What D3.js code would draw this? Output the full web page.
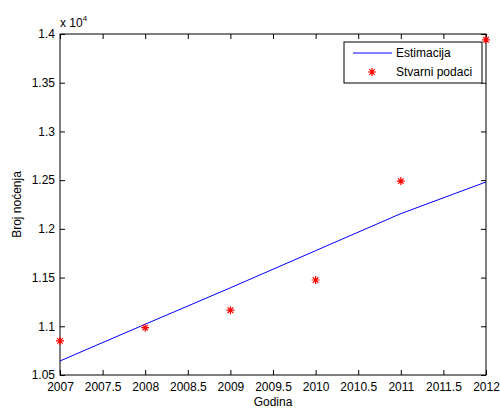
<!DOCTYPE html>
<html>
<head>
<meta charset="utf-8">
<script src="https://cdn.jsdelivr.net/npm/d3@7"></script>
<style>
  body { margin: 0; background: #fff; }
  svg { display: block; font-family: "Liberation Sans", Arial, sans-serif; }
</style>
</head>
<body>
<div id="plot"></div>
<script>
// years on the x axis
const years = [2007, 2008, 2009, 2010, 2011, 2012];
// fitted line (Estimacija)
const estimate = [10644, 11021, 11395, 11776, 12156, 12481];
// real data (Stvarni podaci)
const actual = [10850, 10986, 11165, 11475, 12490, 13940];

const xTicks = [2007, 2007.5, 2008, 2008.5, 2009, 2009.5, 2010, 2010.5, 2011, 2011.5, 2012];
const yTicks = [10500, 11000, 11500, 12000, 12500, 13000, 13500, 14000];

const margin = { top: 34, right: 14, bottom: 33, left: 60 };
const width = 500 - margin.left - margin.right;
const height = 408 - margin.top - margin.bottom;

const svg = d3.select("#plot").append("svg")
  .attr("width", 500)
  .attr("height", 408);

const g = svg.append("g")
  .attr("transform", "translate(" + margin.left + "," + margin.top + ")");

const x = d3.scaleLinear().domain([2007, 2012]).range([0, width]);
const y = d3.scaleLinear().domain([10500, 14000]).range([height, 0]);

// axes, ticks pointing inward
const fmtY = d => d3.format("")(+(d / 1e4).toFixed(2));

g.append("g")
  .attr("transform", "translate(0," + height + ")")
  .call(d3.axisBottom(x).tickValues(xTicks).tickSizeInner(-5).tickSizeOuter(0).tickPadding(7).tickFormat(d => d))
  .call(a => a.select(".domain").remove());

g.append("g")
  .call(d3.axisTop(x).tickValues(xTicks).tickSizeInner(-5).tickSizeOuter(0).tickFormat(""))
  .call(a => a.select(".domain").remove());

g.append("g")
  .call(d3.axisLeft(y).tickValues(yTicks).tickSizeInner(-5).tickSizeOuter(0).tickPadding(5).tickFormat(fmtY))
  .call(a => a.select(".domain").remove());

g.append("g")
  .attr("transform", "translate(" + width + ",0)")
  .call(d3.axisRight(y).tickValues(yTicks).tickSizeInner(-5).tickSizeOuter(0).tickFormat(""))
  .call(a => a.select(".domain").remove());

g.selectAll(".tick text")
  .attr("fill", "#000")
  .style("font-size", "12px");
g.selectAll(".tick line").attr("stroke", "#000");

// box
g.append("rect")
  .attr("width", width)
  .attr("height", height)
  .attr("fill", "none")
  .attr("stroke", "#000")
  .attr("stroke-width", 1);

// exponent label
const ex = svg.append("text")
  .attr("x", 60)
  .attr("y", 27)
  .style("font-size", "12px")
  .text("x 10");
ex.append("tspan")
  .attr("dy", -6)
  .style("font-size", "8px")
  .text("4");

// estimate line
const line = d3.line()
  .x((d, i) => x(years[i]))
  .y(d => y(d));

g.append("path")
  .datum(estimate)
  .attr("fill", "none")
  .attr("stroke", "#0000ff")
  .attr("stroke-width", 1)
  .attr("d", line);

// asterisk marker
function star(sel, s) {
  const d = s * 0.7;
  const p = "M" + (-s) + ",0L" + s + ",0M0," + (-s) + "L0," + s +
    "M" + (-d) + "," + (-d) + "L" + d + "," + d +
    "M" + (-d) + "," + d + "L" + d + "," + (-d);
  sel.append("path").attr("d", p).attr("stroke", "#ff0000").attr("stroke-width", 1.2).attr("fill", "none");
}

g.selectAll(".pt")
  .data(actual)
  .enter().append("g")
  .attr("class", "pt")
  .attr("transform", (d, i) => "translate(" + x(years[i]) + "," + y(d) + ")")
  .each(function () { star(d3.select(this), 4); });

// legend
const lg = svg.append("g").attr("transform", "translate(344,42)");
lg.append("rect")
  .attr("width", 138)
  .attr("height", 41)
  .attr("fill", "#fff")
  .attr("stroke", "#000")
  .attr("stroke-width", 1);
lg.append("line")
  .attr("x1", 9).attr("x2", 48)
  .attr("y1", 11).attr("y2", 11)
  .attr("stroke", "#0000ff");
lg.append("text")
  .attr("x", 52).attr("y", 15)
  .style("font-size", "12px")
  .text("Estimacija");
const ls = lg.append("g").attr("transform", "translate(28,30)");
star(ls, 4);
lg.append("text")
  .attr("x", 52).attr("y", 34)
  .style("font-size", "12px")
  .text("Stvarni podaci");

// axis titles
svg.append("text")
  .attr("x", margin.left + width / 2)
  .attr("y", 406)
  .attr("text-anchor", "middle")
  .style("font-size", "12px")
  .text("Godina");

svg.append("text")
  .attr("transform", "translate(21," + (margin.top + height / 2) + ") rotate(-90)")
  .attr("text-anchor", "middle")
  .style("font-size", "12px")
  .text("Broj noćenja");
</script>
</body>
</html>
